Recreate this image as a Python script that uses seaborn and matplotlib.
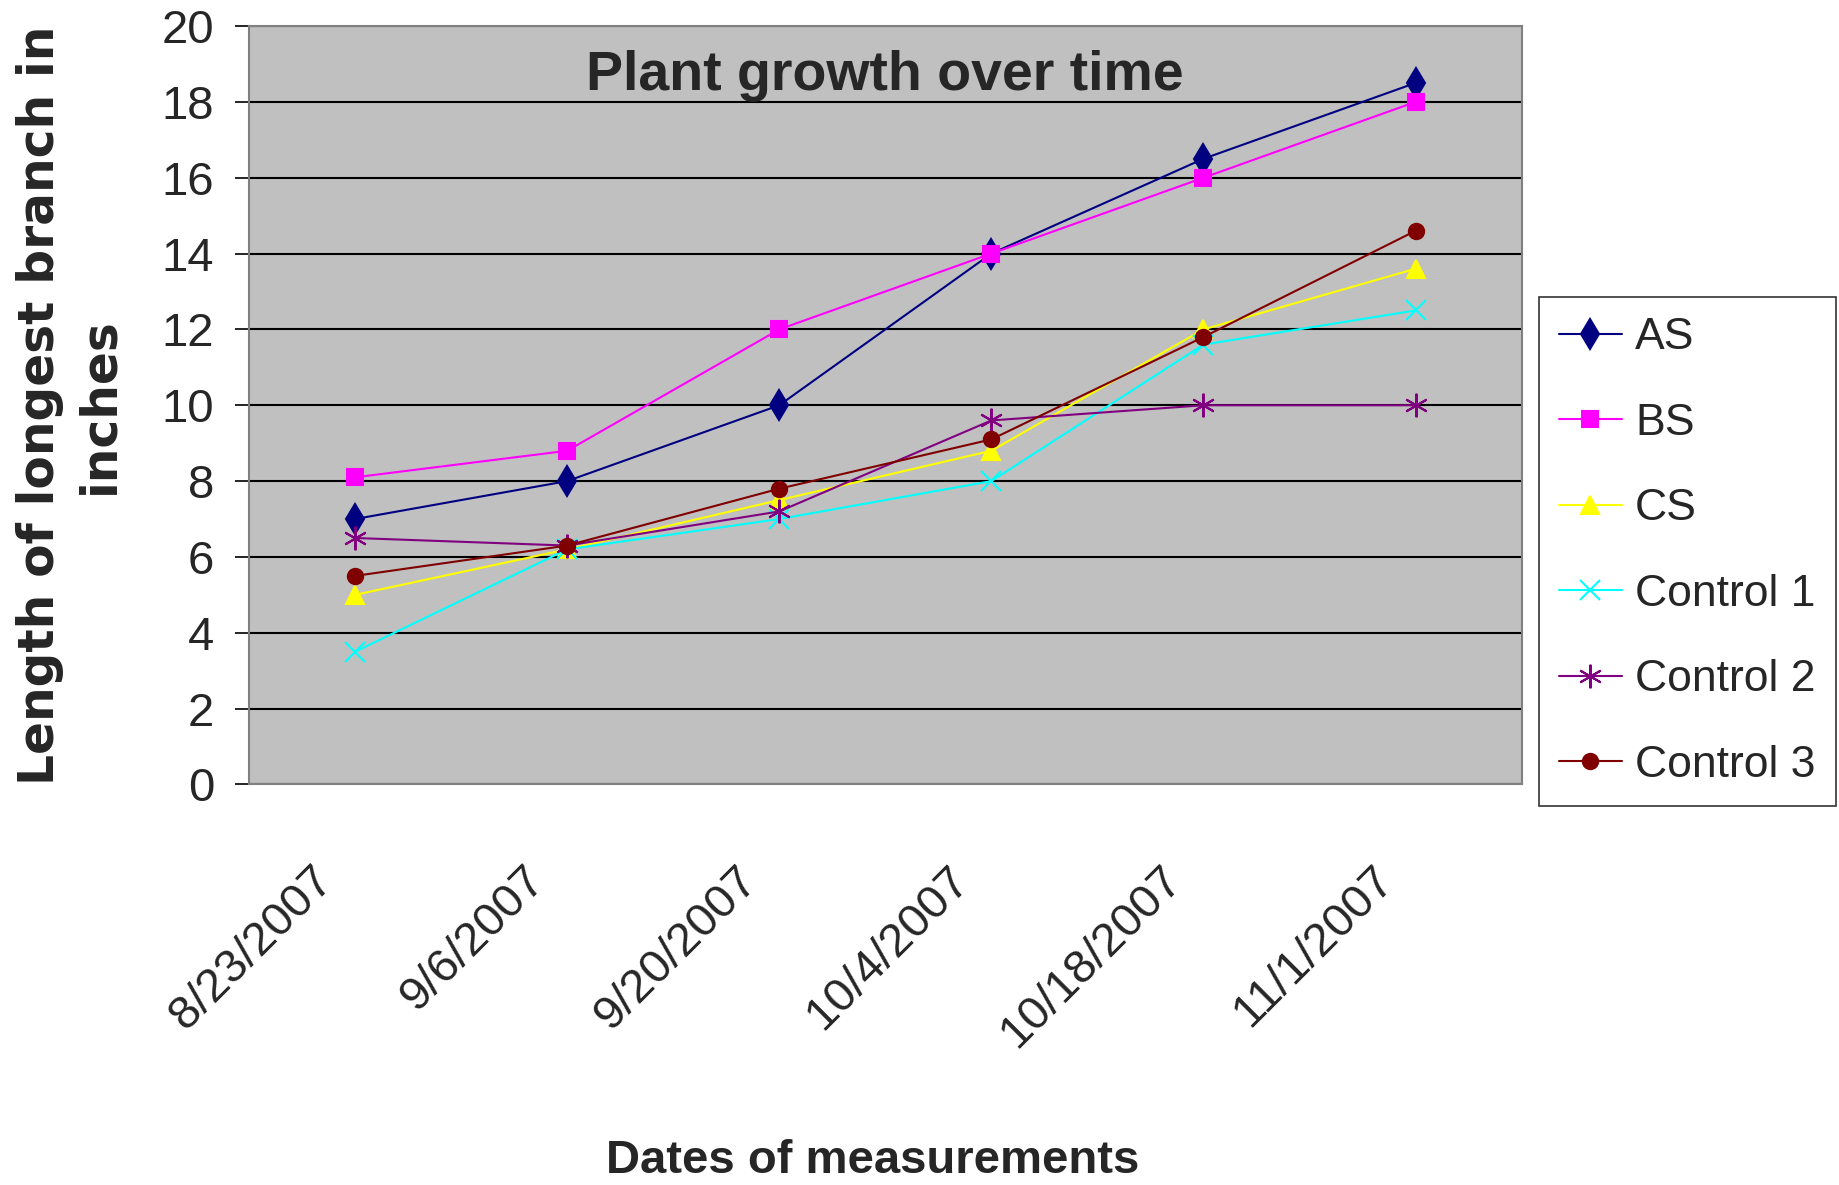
import pandas as pd
import matplotlib.pyplot as plt
import matplotlib.ticker as mticker
import matplotlib.transforms as mtrans
import seaborn as sns

sns.set_style("white")
plt.rcParams["font.family"] = ["Liberation Sans", "DejaVu Sans"]

# data
dates = ["8/23/2007", "9/6/2007", "9/20/2007", "10/4/2007", "10/18/2007", "11/1/2007"]
series_names = ["AS", "BS", "CS", "Control 1", "Control 2", "Control 3"]
as_vals = [7.0, 8.0, 10.0, 14.0, 16.5, 18.5]
bs_vals = [8.1, 8.8, 12.0, 14.0, 16.0, 18.0]
cs_vals = [5.0, 6.2, 7.5, 8.8, 12.0, 13.6]
control1_vals = [3.5, 6.2, 7.0, 8.0, 11.6, 12.5]
control2_vals = [6.5, 6.3, 7.2, 9.6, 10.0, 10.0]
control3_vals = [5.5, 6.3, 7.8, 9.1, 11.8, 14.6]

values = [as_vals, bs_vals, cs_vals, control1_vals, control2_vals, control3_vals]
rows = []
for name, vals in zip(series_names, values):
    for d, v in zip(dates, vals):
        rows.append({"Date": d, "Length": v, "Series": name})
df = pd.DataFrame(rows)

colors = {"AS": "#000080", "BS": "#FF00FF", "CS": "#FFFF00",
          "Control 1": "#00FFFF", "Control 2": "#800080", "Control 3": "#800000"}
markers = {"AS": "d", "BS": "s", "CS": "^",
           "Control 1": "x", "Control 2": (6, 2, 0), "Control 3": "o"}
msizes = {"AS": 15, "BS": 11, "CS": 13, "Control 1": 15, "Control 2": 17, "Control 3": 11}

fig = plt.figure(figsize=(18.39, 11.85), dpi=100)
ax = fig.add_axes([0.1354, 0.338, 0.692, 0.640])
ax.set_facecolor("#C0C0C0")

for name in series_names:
    sub = df[df["Series"] == name]
    sns.lineplot(data=sub, x="Date", y="Length", color=colors[name],
                 marker=markers[name], linewidth=1.5, markersize=msizes[name],
                 markeredgewidth=1.5, markeredgecolor=colors[name],
                 label=name, ax=ax, sort=False)

ax.set_ylim(0, 20)
ax.set_xlim(-0.5, 5.5)
ax.yaxis.set_major_locator(mticker.MultipleLocator(2))
ax.grid(axis="y", color="black", linewidth=1.5)
ax.set_axisbelow(True)

# tick marks sit between the categories
ax.set_xticks(range(len(dates)))
ax.set_xticklabels(dates, rotation=45, ha="right", rotation_mode="anchor", fontsize=34)
ax.tick_params(axis="x", which="major", length=0, pad=53)
ax.set_xticks([i - 0.5 for i in range(len(dates) + 1)], minor=True)
ax.tick_params(axis="x", which="minor", length=15, width=1.2, color="black", direction="out")
ax.tick_params(axis="y", labelsize=34, length=10, width=1.2, color="black",
               direction="out", left=True, pad=15)
shift = mtrans.ScaledTranslation(-0.44, 0, fig.dpi_scale_trans)
for lbl in ax.get_xticklabels():
    lbl.set_transform(lbl.get_transform() + shift)

for side in ["left", "top", "right", "bottom"]:
    ax.spines[side].set_color("#808080")
    ax.spines[side].set_linewidth(1.5)

ax.text(0.5, 0.969, "Plant growth over time", transform=ax.transAxes,
        ha="center", va="top", fontsize=40, fontweight="bold")
ax.set_xlabel("Dates of measurements", fontsize=34, fontweight="bold")
ax.xaxis.set_label_coords(0.49, -0.467)
ax.set_ylabel("Length of longest branch in\ninches", fontsize=35, fontweight="bold",
              family=["DejaVu Sans"], linespacing=1.3)
ax.yaxis.set_label_coords(-0.099, 0.5)

handles, labels = ax.get_legend_handles_labels()
ax.get_legend().remove()
leg = fig.legend(handles, labels, loc="upper left", bbox_to_anchor=(0.8367, 0.749),
                 borderaxespad=0, fontsize=32, frameon=True, fancybox=False,
                 edgecolor="black", handlelength=1.42, labelspacing=1.0,
                 borderpad=0.45, handletextpad=0.3)
leg.get_frame().set_linewidth(1.2)

fig.savefig("out.png", dpi=100)
